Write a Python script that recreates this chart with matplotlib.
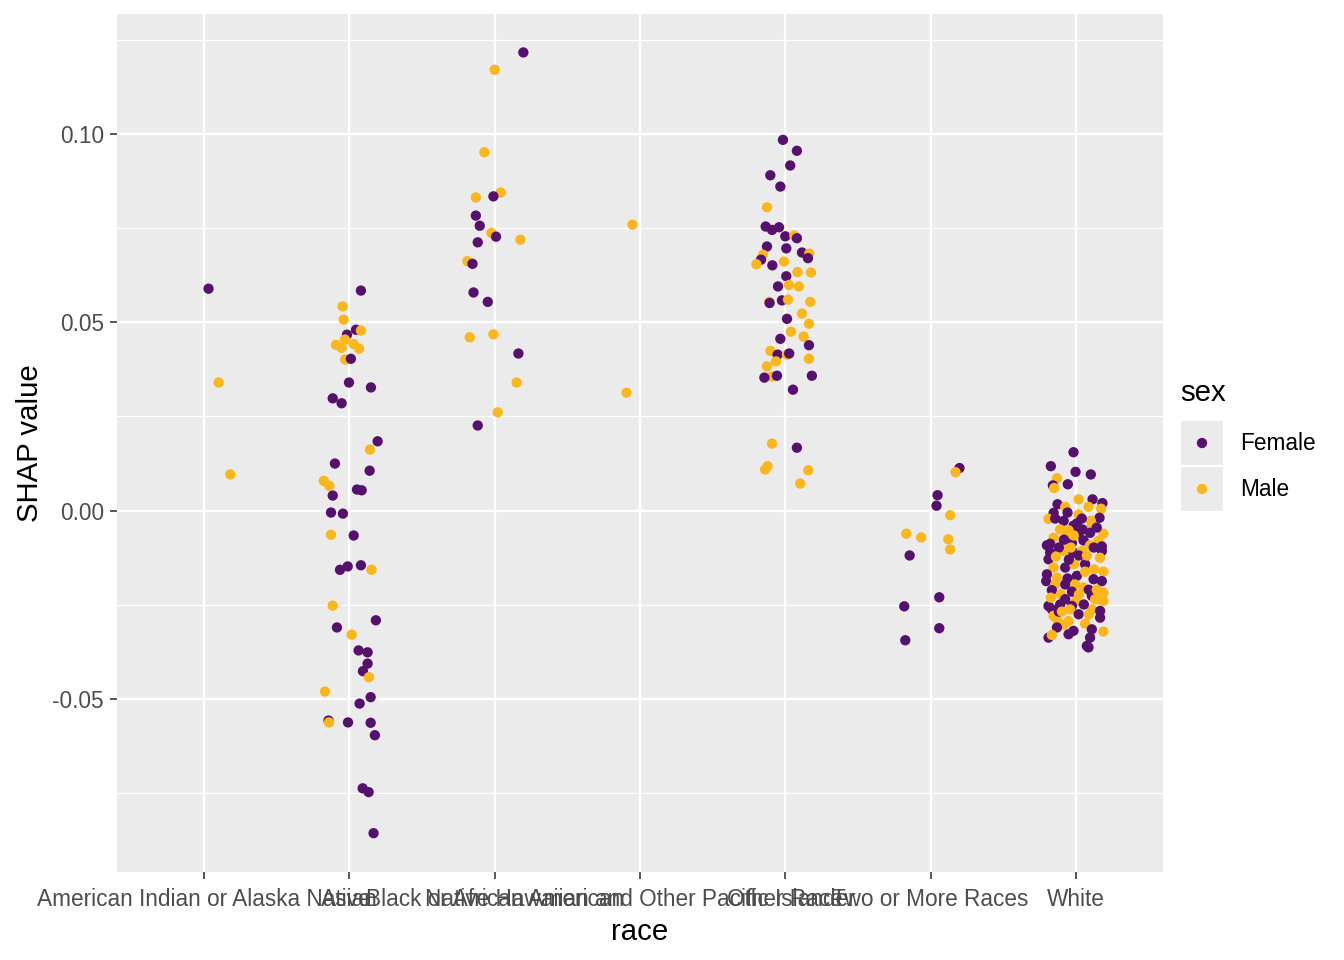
import matplotlib
matplotlib.use("Agg")
import matplotlib.pyplot as plt
from matplotlib.patches import Rectangle
from matplotlib.ticker import MultipleLocator

# Categories on the x axis (in plotting order)
races = ["American Indian or Alaska Native", "Asian", "Black or African American",
         "Native Hawaiian and Other Pacific Islander", "Other Race",
         "Two or More Races", "White"]

# Colour per sex level
sex_levels = ["Female", "Male"]
sex_colors = {"F": "#56106E", "M": "#FBB61A"}

# Points per race: horizontal jitter (category units), SHAP value, sex (F/M)
amind_jit = [0.03, 0.10, 0.18]
amind_shap = [0.0589, 0.0340, 0.0096]
amind_sex = "FMM"

asian_jit = [0.079, -0.047, -0.040, 0.045, 0.079, -0.017, -0.031, -0.093, -0.054, 0.029,
             0.067, -0.029, 0.010, -0.003, 0.148, -0.115, -0.054, 0.194, 0.141, -0.100,
             0.139, -0.177, -0.139, -0.115, 0.052, 0.084, -0.127, -0.045, -0.127, 0.029,
             -0.065, -0.012, 0.079, 0.152, -0.115, 0.182, -0.086, 0.015, 0.063, 0.125,
             0.125, 0.093, 0.134, -0.168, 0.146, 0.070, -0.144, -0.141, -0.010, 0.146,
             0.175, 0.091, 0.132, 0.166]
asian_shap = [0.0584, 0.0542, 0.0507, 0.0480, 0.0478, 0.0467, 0.0454, 0.0440, 0.0432, 0.0442,
              0.0430, 0.0401, 0.0403, 0.0340, 0.0327, 0.0298, 0.0285, 0.0184, 0.0162, 0.0125,
              0.0106, 0.0079, 0.0066, 0.0040, 0.0056, 0.0054, -0.0005, -0.0008, -0.0064, -0.0066,
              -0.0157, -0.0148, -0.0145, -0.0157, -0.0252, -0.0291, -0.0310, -0.0329, -0.0371, -0.0376,
              -0.0406, -0.0426, -0.0442, -0.0480, -0.0495, -0.0512, -0.0557, -0.0562, -0.0562, -0.0563,
              -0.0596, -0.0737, -0.0747, -0.0856]
asian_sex = "FMMFMFMMMMMMFFFFFFMFFMMFFFFFMFFFFMMFFMFFFFMMFFFMFFFFFF"

black_jit = [0.197, 0.000, -0.071, 0.041, -0.009, -0.130, -0.130, -0.103, -0.023, 0.009,
             0.177, -0.117, -0.188, -0.153, -0.146, -0.048, -0.172, -0.009, 0.163, 0.151,
             0.021, -0.117]
black_shap = [0.1216, 0.1170, 0.0951, 0.0844, 0.0834, 0.0831, 0.0783, 0.0756, 0.0737, 0.0727,
              0.0719, 0.0712, 0.0662, 0.0655, 0.0579, 0.0554, 0.0460, 0.0468, 0.0417, 0.0340,
              0.0261, 0.0226]
black_sex = "FMMMFMFFMFMFMFFFMMFMMF"

nhpi_jit = [-0.052, -0.093]
nhpi_shap = [0.0759, 0.0313]
nhpi_sex = "MM"

other_jit = [-0.016, 0.080, 0.034, -0.103, -0.034, -0.126, -0.135, -0.091, -0.043, 0.000,
             0.062, 0.080, -0.126, 0.007, 0.115, 0.165, 0.156, -0.153, -0.167, -0.199,
             -0.089, -0.009, 0.084, 0.177, 0.007, 0.025, 0.094, -0.050, -0.110, -0.108,
             -0.023, 0.019, 0.172, 0.115, 0.012, 0.163, 0.039, 0.126, -0.034, 0.163,
             -0.103, -0.053, 0.012, 0.027, -0.064, 0.163, -0.126, -0.091, -0.057, -0.144,
             0.183, 0.053, -0.091, 0.080, -0.122, -0.139, 0.158, 0.103]
other_shap = [0.0984, 0.0955, 0.0916, 0.0890, 0.0860, 0.0805, 0.0754, 0.0745, 0.0752, 0.0728,
              0.0730, 0.0723, 0.0701, 0.0696, 0.0685, 0.0682, 0.0670, 0.0679, 0.0666, 0.0654,
              0.0651, 0.0661, 0.0633, 0.0632, 0.0622, 0.0599, 0.0595, 0.0595, 0.0554, 0.0551,
              0.0558, 0.0560, 0.0554, 0.0523, 0.0509, 0.0496, 0.0475, 0.0462, 0.0456, 0.0439,
              0.0424, 0.0414, 0.0414, 0.0417, 0.0396, 0.0403, 0.0383, 0.0356, 0.0358, 0.0353,
              0.0358, 0.0321, 0.0178, 0.0167, 0.0118, 0.0109, 0.0107, 0.0072]
other_sex = "FFFFFMFFFFMFFFFMFMFMFMMMFMMFMFFMMMFMMMFFMFMFMMMMFFFFMFMMMM"

two_jit = [0.199, 0.172, 0.048, 0.041, 0.135, -0.167, -0.064, 0.122, 0.135, -0.144,
           0.060, -0.181, 0.060, -0.174]
two_shap = [0.0113, 0.0102, 0.0041, 0.0013, -0.0012, -0.0061, -0.0071, -0.0076, -0.0103, -0.0119,
            -0.0230, -0.0254, -0.0312, -0.0344]
two_sex = "FMFFMMMMMFFFFF"

white_jit = [-0.016, -0.172, -0.002, 0.103, -0.130, -0.158, -0.149, -0.055, 0.019, 0.115,
             0.183, 0.087, 0.174, -0.126, -0.073, -0.153, -0.057, 0.019, 0.163, -0.188,
             -0.142, -0.084, 0.103, 0.041, 0.110, -0.108, -0.016, 0.046, -0.050, 0.019,
             0.190, -0.153, 0.098, -0.062, -0.177, -0.096, -0.027, 0.053, 0.156, 0.179,
             0.098, -0.199, -0.082, 0.144, 0.007, -0.014,
             -0.177, -0.084, -0.016, 0.041, 0.179, 0.167, -0.188, -0.153, -0.073, -0.012,
             0.064, 0.126, 0.190, -0.199, -0.130, -0.057, 0.007, 0.064, 0.122, 0.179,
             -0.204, -0.142, -0.073, -0.005, 0.053, -0.165, -0.103, -0.027, 0.110, 0.190,
             0.133, -0.073, 0.002, -0.188, -0.108, -0.027, 0.110, 0.167, -0.039, -0.165,
             0.190, -0.153, -0.130, 0.019, -0.050, -0.084, 0.064, 0.167, -0.130, -0.016,
             0.110, -0.050, 0.190, -0.188, -0.165, 0.098, 0.076, 0.087,
             -0.117, 0.021, 0.124, -0.048, 0.089, -0.117, 0.055, -0.034, 0.076, -0.137,
             0.144, 0.021, -0.096, 0.089, 0.158, -0.172]
white_shap = [0.0155, 0.0118, 0.0103, 0.0096, 0.0086, 0.0067, 0.0060, 0.0070, 0.0030, 0.0030,
              0.0020, 0.0010, 0.0005, 0.0017, 0.0010, -0.0006, -0.0005, -0.0010, -0.0019, -0.0022,
              -0.0021, -0.0027, -0.0027, -0.0021, -0.0039, -0.0050, -0.0040, -0.0050, -0.0052, -0.0061,
              -0.0061, -0.0072, -0.0059, -0.0070, -0.0088, -0.0092, -0.0086, -0.0079, -0.0080, -0.0095,
              -0.0092, -0.0092, -0.0077, -0.0045, -0.0034, -0.0066,
              -0.0111, -0.0107, -0.0111, -0.0107, -0.0107, -0.0125, -0.0129, -0.0151, -0.0151, -0.0142,
              -0.0142, -0.0156, -0.0162, -0.0169, -0.0178, -0.0180, -0.0173, -0.0162, -0.0182, -0.0187,
              -0.0187, -0.0196, -0.0196, -0.0196, -0.0204, -0.0211, -0.0222, -0.0215, -0.0226, -0.0218,
              -0.0235, -0.0235, -0.0240, -0.0253, -0.0249, -0.0253, -0.0262, -0.0266, -0.0262, -0.0262,
              -0.0240, -0.0279, -0.0288, -0.0275, -0.0293, -0.0303, -0.0300, -0.0284, -0.0310, -0.0319,
              -0.0315, -0.0328, -0.0321, -0.0337, -0.0330, -0.0337, -0.0359, -0.0363,
              -0.0098, -0.0119, -0.0098, -0.0130, -0.0210, -0.0268, -0.0249, -0.0098, -0.0119, -0.0122,
              -0.0210, -0.0223, -0.0268, -0.0276, -0.0236, -0.0231]
white_sex = ("FFFFMFMFMFFMMFMFFMFMFFMFMMFFMFMMFMFMFFMFMFFFFM"
             "FMFMFMFMFMFMMFMFFMFFFMFMMFMFFMMFMFFFMFMFMMMFMMMFFFFFMFMFFF"
             "FFFFFFFMMMMMMMMM")

race_jit = [amind_jit, asian_jit, black_jit, nhpi_jit, other_jit, two_jit, white_jit]
race_shap = [amind_shap, asian_shap, black_shap, nhpi_shap, other_shap, two_shap, white_shap]
race_sex = [amind_sex, asian_sex, black_sex, nhpi_sex, other_sex, two_sex, white_sex]

plt.rcParams['font.family'] = ['Liberation Sans', 'DejaVu Sans']

fig = plt.figure(figsize=(7, 5), dpi=192)
ax = fig.add_axes([117 / 1344, 1 - 872 / 960, (1163 - 117) / 1344, (872 - 14) / 960])
ax.set_facecolor("#EBEBEB")
for s in ax.spines.values():
    s.set_visible(False)

# Points
for i, (jit, shap, sex) in enumerate(zip(race_jit, race_shap, race_sex)):
    xs = [i + 1 + j for j in jit]
    cols = [sex_colors[c] for c in sex]
    ax.scatter(xs, shap, c=cols, s=15, linewidths=0, zorder=3)

ax.set_xlim(0.4, 7.6)
ax.set_ylim(-0.0959, 0.1318)

ax.set_xticks(range(1, 8))
ax.set_xticklabels(races)
ax.yaxis.set_major_locator(MultipleLocator(0.05))
ax.yaxis.set_minor_locator(MultipleLocator(0.025))
ax.set_yticks([-0.05, 0.0, 0.05, 0.10])
ax.set_yticklabels(["-0.05", "0.00", "0.05", "0.10"])

ax.grid(which="major", color="white", linewidth=0.9, zorder=0)
ax.grid(which="minor", axis="y", color="white", linewidth=0.45, zorder=0)
ax.set_axisbelow(True)
ax.tick_params(which="major", length=2.75, width=0.6, color="#333333",
               labelsize=8.5, labelcolor="#4D4D4D", pad=2.2)
ax.tick_params(axis="x", which="major", pad=3.2)
ax.tick_params(which="minor", length=0)

ax.set_xlabel("race", fontsize=11, labelpad=2.8)
ax.set_ylabel("SHAP value", fontsize=11, labelpad=3)

# Legend drawn by hand, ggplot style
fig.text(1180 / 1344, 1 - 393 / 960, "sex", fontsize=11, va="center", ha="left")
for k, lev in enumerate(sex_levels):
    fig.text(1240 / 1344, 1 - (420 + 46 * k + 23) / 960, lev, fontsize=8.5,
             va="center", ha="left")
leg_ax = fig.add_axes([1180 / 1344, 1 - 512 / 960, 44 / 1344, 92 / 960])
leg_ax.set_xlim(0, 1)
leg_ax.set_ylim(0, 2)
leg_ax.axis("off")
for k in range(2):
    leg_ax.add_patch(Rectangle((0, 1 - k), 1, 1, facecolor="#EBEBEB",
                               edgecolor="white", linewidth=0.8, zorder=1))
leg_ax.scatter([0.5, 0.5], [1.5, 0.5], c=[sex_colors["F"], sex_colors["M"]],
               s=15, linewidths=0, zorder=3)

fig.savefig("out.png", dpi=192)
